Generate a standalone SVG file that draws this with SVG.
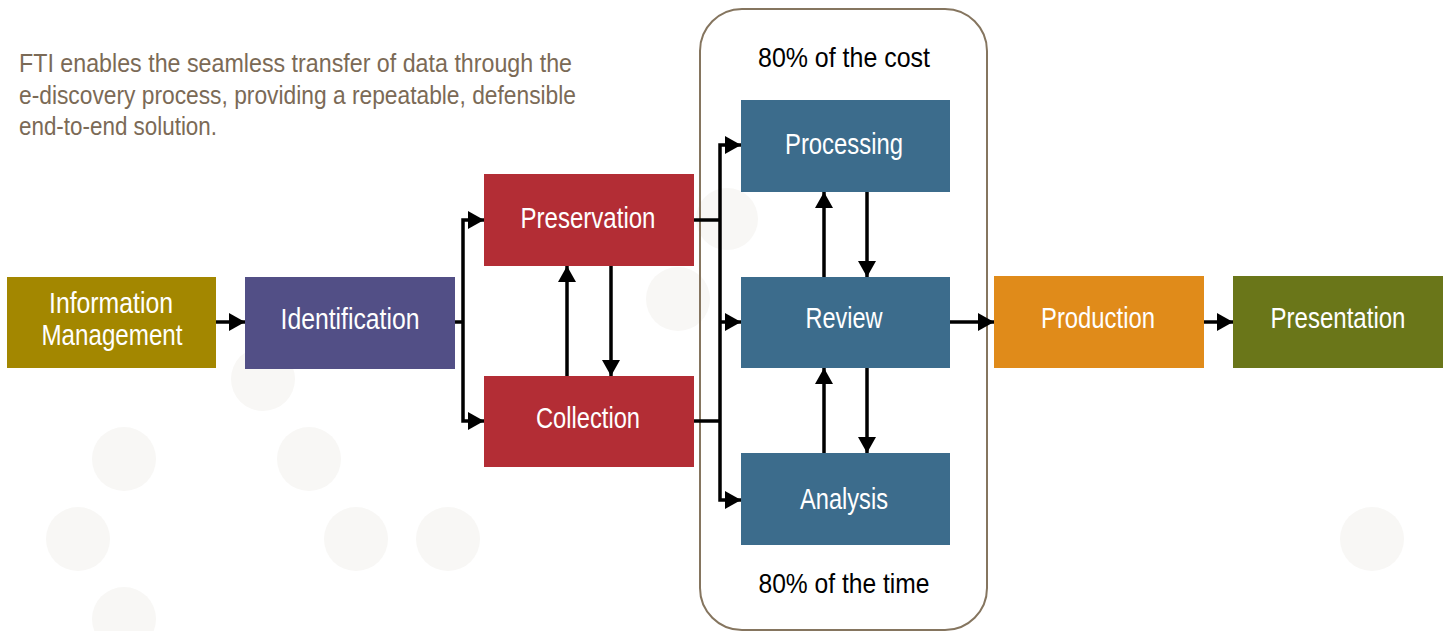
<svg xmlns="http://www.w3.org/2000/svg" width="1443" height="631" viewBox="0 0 1443 631">
<defs>
<style>
.bg{fill:#f8f7f5}
.box text{fill:#ffffff;font-family:"Liberation Sans",Arial,sans-serif;font-size:30px;text-anchor:middle}
.note{fill:#7b6a56;font-family:"Liberation Sans",Arial,sans-serif;font-size:26px}
.cap{fill:#000000;font-family:"Liberation Sans",Arial,sans-serif;font-size:28px;text-anchor:middle}
.con path{fill:none;stroke:#000000;stroke-width:3.5}
.arr{marker-end:url(#ah)}
</style>
<marker id="ah" markerUnits="userSpaceOnUse" markerWidth="17" markerHeight="18" refX="16" refY="9" orient="auto">
<path d="M0,0 L16,9 L0,18 Z" fill="#000000"/>
</marker>
</defs>
<rect x="0" y="0" width="1443" height="631" fill="#ffffff"/>
<g id="background">
<circle class="bg" cx="263" cy="379" r="32"/>
<circle class="bg" cx="124" cy="459" r="32"/>
<circle class="bg" cx="309" cy="459" r="32"/>
<circle class="bg" cx="78" cy="539" r="32"/>
<circle class="bg" cx="356" cy="539" r="32"/>
<circle class="bg" cx="448" cy="539" r="32"/>
<circle class="bg" cx="124" cy="619" r="32"/>
<circle class="bg" cx="678" cy="299" r="32"/>
<circle class="bg" cx="727" cy="219" r="31"/>
<circle class="bg" cx="1372" cy="539" r="32"/>
</g>
<g id="intro">
<text class="note" x="19" y="72" textLength="553" lengthAdjust="spacingAndGlyphs">FTI enables the seamless transfer of data through the</text>
<text class="note" x="19" y="104" textLength="557" lengthAdjust="spacingAndGlyphs">e-discovery process, providing a repeatable, defensible</text>
<text class="note" x="19" y="135" textLength="198" lengthAdjust="spacingAndGlyphs">end-to-end solution.</text>
</g>
<g id="cost-frame">
<rect x="700" y="9" width="287" height="621" rx="42" ry="42" fill="none" stroke="#85755f" stroke-width="2"/>
<text class="cap" x="844" y="67" textLength="172" lengthAdjust="spacingAndGlyphs">80% of the cost</text>
<text class="cap" x="844" y="593" textLength="171" lengthAdjust="spacingAndGlyphs">80% of the time</text>
</g>
<g id="connectors" class="con">
<path class="arr" d="M216,322 H245"/>
<path d="M455,322 H463"/>
<path class="arr" d="M463,322 V220 H484"/>
<path class="arr" d="M463,322 V421 H484"/>
<path class="arr" d="M567,376 V266"/>
<path class="arr" d="M611,266 V376"/>
<path d="M694,220 H720"/>
<path d="M694,421 H720"/>
<path class="arr" d="M720,322 V145 H741"/>
<path class="arr" d="M720,322 V500 H741"/>
<path class="arr" d="M720,322 H741"/>
<path class="arr" d="M824,277 V192"/>
<path class="arr" d="M867,192 V277"/>
<path class="arr" d="M824,453 V368"/>
<path class="arr" d="M867,368 V453"/>
<path class="arr" d="M950,322 H994"/>
<path class="arr" d="M1204,322 H1233"/>
</g>
<g id="information-management" class="box">
<rect x="7" y="277" width="209" height="91" fill="#a38700"/>
<text x="111" y="313" textLength="124" lengthAdjust="spacingAndGlyphs">Information</text>
<text x="112" y="345" textLength="141" lengthAdjust="spacingAndGlyphs">Management</text>
</g>
<g id="identification" class="box">
<rect x="245" y="277" width="210" height="92" fill="#524f86"/>
<text x="350" y="329" textLength="139" lengthAdjust="spacingAndGlyphs">Identification</text>
</g>
<g id="preservation" class="box">
<rect x="484" y="174" width="210" height="92" fill="#b32d35"/>
<text x="588" y="228" textLength="135" lengthAdjust="spacingAndGlyphs">Preservation</text>
</g>
<g id="collection" class="box">
<rect x="484" y="376" width="210" height="91" fill="#b32d35"/>
<text x="588" y="428" textLength="104" lengthAdjust="spacingAndGlyphs">Collection</text>
</g>
<g id="processing" class="box">
<rect x="741" y="100" width="209" height="92" fill="#3c6c8c"/>
<text x="844" y="154" textLength="118" lengthAdjust="spacingAndGlyphs">Processing</text>
</g>
<g id="review" class="box">
<rect x="741" y="277" width="209" height="91" fill="#3c6c8c"/>
<text x="844" y="328" textLength="77" lengthAdjust="spacingAndGlyphs">Review</text>
</g>
<g id="analysis" class="box">
<rect x="741" y="453" width="209" height="92" fill="#3c6c8c"/>
<text x="844" y="509" textLength="88" lengthAdjust="spacingAndGlyphs">Analysis</text>
</g>
<g id="production" class="box">
<rect x="994" y="276" width="210" height="92" fill="#e08b1a"/>
<text x="1098" y="328" textLength="114" lengthAdjust="spacingAndGlyphs">Production</text>
</g>
<g id="presentation" class="box">
<rect x="1233" y="276" width="210" height="92" fill="#6a7619"/>
<text x="1338" y="328" textLength="135" lengthAdjust="spacingAndGlyphs">Presentation</text>
</g>
</svg>
